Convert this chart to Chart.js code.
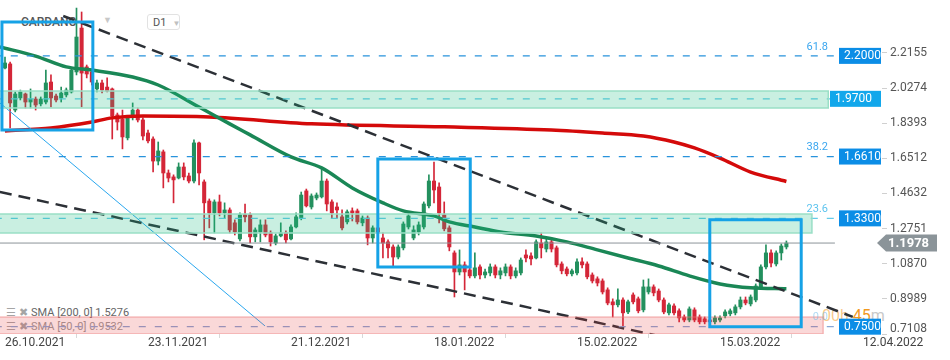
<!DOCTYPE html>
<html lang="en">
<head>
<meta charset="UTF-8">
<title>CARDANO D1</title>
<script src="https://cdn.jsdelivr.net/npm/chart.js@4"></script>
<style>
  html, body { margin: 0; padding: 0; background: #fff; }
  #wrap { position: relative; width: 950px; height: 360px; font-family: Roboto, "Noto Sans", sans-serif; }
  #chart { position: absolute; left: 0; top: 0; z-index: 2; }
  .txt { position: absolute; z-index: 1; white-space: nowrap; }
  .sym { left: 21px; top: 15px; font-size: 12px; font-weight: 500; color: #555; }
  .arr { left: 103px; top: 15px; font-size: 9px; color: #c8c8c8; }
  .tf { left: 147px; top: 14px; width: 33px; height: 16px; border: 1px solid #e2e2e2; border-radius: 3px;
        font-size: 11px; color: #555; line-height: 16px; padding-left: 5px; box-sizing: border-box; }
  .tf span { color: #c0c0c0; font-size: 8px; margin-left: 6px; }
  .leg { left: 6px; font-size: 11px; color: #666; }
  .leg i { font-style: normal; color: #a5a5a5; margin-right: 3px; }
  .leg2 { color: #9a9a9a; }
  .timer { left: 822px; top: 306px; font-size: 16px; }
</style>
</head>
<body>
<div id="wrap">
  <canvas id="chart" width="950" height="360"></canvas>
  <div class="txt sym">CARDANO</div>
  <div class="txt arr">&#9660;</div>
  <div class="txt tf">D1<span>&#9660;</span></div>
  <div class="txt leg" style="top:306px;"><i>&#9776;</i><i>&#10006;</i>SMA [200, 0] 1.5276</div>
  <div class="txt leg leg2" style="top:320px;"><i>&#9776;</i><i>&#10006;</i>SMA [50, 0] 0.9532</div>
  <div class="txt timer"><span style="color:rgba(243,156,40,0.55)">00h</span> <span style="color:#f29a1f">45</span><span style="color:#c9c9c9">m</span></div>
</div>
<script>
// CARDANO daily candles, 26.10.2021 -> 28.03.2022 (day 0 = 26.10.2021)

var xTickDays = [0, 28, 56, 84, 112, 140, 168];
var xTickLabels = ['26.10.2021', '23.11.2021', '21.12.2021', '18.01.2022', '15.02.2022', '15.03.2022', '12.04.2022'];
var yTickValues = [0.7108, 0.8989, 1.0870, 1.2751, 1.4632, 1.6512, 1.8393, 2.0274, 2.2155];

var opens = [
  2.135, 2.157, 1.910, 1.975, 1.996, 1.953, 1.969, 1.943, 1.953, 2.060,
  1.985, 1.975, 1.991, 2.007, 2.114, 2.349, 2.141, 2.114, 2.023, 2.055,
  2.033, 2.023, 1.884, 1.862, 1.761, 1.873, 1.910, 1.857, 1.787, 1.755,
  1.637, 1.686, 1.573, 1.552, 1.546, 1.605, 1.557, 1.530, 1.734, 1.525,
  1.423, 1.359, 1.418, 1.359, 1.375, 1.306, 1.220, 1.349, 1.349, 1.231,
  1.257, 1.295, 1.252, 1.198, 1.236, 1.252, 1.220, 1.284, 1.333, 1.477,
  1.391, 1.439, 1.445, 1.530, 1.418, 1.391, 1.338, 1.311, 1.370, 1.370,
  1.306, 1.332, 1.225, 1.279, 1.225, 1.204, 1.177, 1.123, 1.172, 1.284,
  1.225, 1.257, 1.284, 1.397, 1.530, 1.498, 1.349, 1.279, 1.145, 1.043,
  1.081, 1.054, 1.022, 1.070, 1.027, 1.038, 1.070, 1.027, 1.038, 1.070,
  1.022, 1.038, 1.134, 1.129, 1.118, 1.198, 1.166, 1.204, 1.172, 1.086,
  1.059, 1.033, 1.038, 1.097, 1.086, 1.027, 1.006, 0.995, 0.947, 0.883,
  0.867, 0.893, 0.829, 0.920, 0.899, 0.840, 0.936, 0.963, 0.941, 0.893,
  0.824, 0.861, 0.835, 0.802, 0.786, 0.840, 0.802, 0.792, 0.786, 0.776,
  0.786, 0.808, 0.819, 0.824, 0.856, 0.893, 0.872, 0.893, 0.963, 1.070,
  1.145, 1.086, 1.145, 1.177
];
var highs = [
  2.194, 2.167, 2.007, 2.017, 2.001, 2.023, 1.980, 1.980, 2.124, 2.098,
  1.996, 2.033, 2.028, 2.135, 2.456, 2.435, 2.151, 2.124, 2.071, 2.071,
  2.082, 2.028, 1.894, 1.910, 1.878, 1.948, 1.921, 1.868, 1.803, 1.766,
  1.739, 1.696, 1.589, 1.563, 1.627, 1.627, 1.573, 1.750, 1.739, 1.536,
  1.434, 1.429, 1.455, 1.413, 1.386, 1.322, 1.359, 1.407, 1.359, 1.279,
  1.322, 1.322, 1.263, 1.247, 1.306, 1.263, 1.295, 1.359, 1.471, 1.487,
  1.461, 1.466, 1.595, 1.541, 1.429, 1.413, 1.375, 1.375, 1.386, 1.380,
  1.343, 1.343, 1.290, 1.290, 1.252, 1.215, 1.188, 1.188, 1.311, 1.359,
  1.290, 1.311, 1.418, 1.563, 1.632, 1.520, 1.418, 1.290, 1.156, 1.161,
  1.097, 1.065, 1.145, 1.081, 1.059, 1.086, 1.081, 1.065, 1.086, 1.081,
  1.065, 1.118, 1.161, 1.145, 1.215, 1.252, 1.220, 1.225, 1.182, 1.097,
  1.070, 1.059, 1.113, 1.118, 1.097, 1.038, 1.017, 1.006, 0.958, 0.899,
  0.952, 0.904, 0.893, 0.931, 0.909, 1.000, 1.006, 0.974, 0.952, 0.904,
  0.877, 0.872, 0.845, 0.813, 0.856, 0.851, 0.813, 0.802, 0.797, 0.808,
  0.808, 0.840, 0.845, 0.867, 0.909, 0.909, 0.920, 0.979, 1.081, 1.188,
  1.161, 1.156, 1.193, 1.209
];
var lows = [
  2.130, 1.814, 1.900, 1.964, 1.921, 1.921, 1.910, 1.932, 1.943, 1.927,
  1.953, 1.953, 1.980, 2.001, 2.098, 1.927, 2.082, 2.044, 2.007, 2.001,
  2.007, 1.755, 1.803, 1.702, 1.750, 1.857, 1.846, 1.750, 1.734, 1.579,
  1.616, 1.493, 1.525, 1.413, 1.541, 1.536, 1.520, 1.520, 1.509, 1.215,
  1.279, 1.252, 1.343, 1.332, 1.252, 1.241, 1.209, 1.311, 1.198, 1.204,
  1.204, 1.231, 1.182, 1.188, 1.231, 1.198, 1.215, 1.279, 1.322, 1.391,
  1.380, 1.429, 1.439, 1.370, 1.332, 1.332, 1.268, 1.300, 1.316, 1.300,
  1.290, 1.188, 1.198, 1.236, 1.118, 1.118, 1.075, 1.113, 1.161, 1.273,
  1.215, 1.241, 1.273, 1.386, 1.413, 1.306, 1.263, 1.156, 0.909, 1.027,
  0.947, 1.011, 1.011, 1.006, 1.011, 1.022, 1.011, 1.006, 1.022, 1.006,
  1.011, 1.027, 1.097, 1.081, 1.113, 1.118, 1.150, 1.150, 1.070, 1.033,
  1.022, 1.022, 1.027, 1.065, 1.006, 0.984, 0.968, 0.925, 0.867, 0.802,
  0.856, 0.743, 0.819, 0.872, 0.824, 0.829, 0.925, 0.915, 0.883, 0.819,
  0.813, 0.813, 0.776, 0.776, 0.776, 0.776, 0.765, 0.765, 0.765, 0.765,
  0.776, 0.797, 0.808, 0.813, 0.845, 0.867, 0.861, 0.883, 0.952, 1.059,
  1.070, 1.075, 1.107, 1.166
];
var closes = [
  2.162, 1.948, 1.996, 2.007, 1.953, 1.969, 1.937, 1.969, 2.055, 1.975,
  1.964, 2.001, 2.017, 2.124, 2.301, 2.108, 2.103, 2.060, 2.055, 2.017,
  2.012, 1.878, 1.846, 1.766, 1.868, 1.910, 1.857, 1.771, 1.745, 1.637,
  1.691, 1.573, 1.546, 1.536, 1.605, 1.552, 1.530, 1.734, 1.573, 1.413,
  1.359, 1.418, 1.359, 1.375, 1.268, 1.257, 1.349, 1.338, 1.231, 1.268,
  1.295, 1.241, 1.204, 1.236, 1.252, 1.215, 1.284, 1.338, 1.455, 1.397,
  1.450, 1.455, 1.530, 1.407, 1.359, 1.375, 1.279, 1.365, 1.359, 1.311,
  1.332, 1.225, 1.279, 1.252, 1.198, 1.172, 1.123, 1.177, 1.300, 1.343,
  1.268, 1.295, 1.407, 1.530, 1.482, 1.359, 1.274, 1.177, 1.043, 1.081,
  1.043, 1.022, 1.065, 1.027, 1.043, 1.070, 1.027, 1.049, 1.070, 1.022,
  1.049, 1.107, 1.118, 1.113, 1.204, 1.172, 1.204, 1.166, 1.081, 1.049,
  1.033, 1.049, 1.097, 1.081, 1.017, 0.995, 0.984, 0.936, 0.877, 0.867,
  0.893, 0.824, 0.883, 0.883, 0.835, 0.963, 0.963, 0.931, 0.893, 0.829,
  0.867, 0.824, 0.797, 0.786, 0.845, 0.786, 0.776, 0.776, 0.776, 0.797,
  0.797, 0.829, 0.835, 0.856, 0.893, 0.877, 0.909, 0.968, 1.070, 1.145,
  1.091, 1.145, 1.182, 1.1978
];

// moving averages, read at a few days along the curves
var sma50Days = [-1, 6, 12, 17, 25, 30, 38, 44, 48, 56, 62, 68, 74, 78, 84, 87, 92, 97, 104, 110, 116, 122, 128, 134, 140, 146, 153];
var sma50Values = [2.248, 2.199, 2.141, 2.124, 2.087, 2.044, 1.926, 1.836, 1.777, 1.659, 1.600, 1.493, 1.413, 1.370, 1.343, 1.311, 1.284, 1.257, 1.236, 1.204, 1.161, 1.118, 1.075, 1.022, 0.979, 0.958, 0.953];
var sma200Days = [0, 9, 17, 21, 27, 40, 60, 86, 107, 117, 125, 131, 135, 140, 146, 153];
var sma200Values = [1.798, 1.814, 1.846, 1.868, 1.878, 1.873, 1.836, 1.820, 1.803, 1.787, 1.771, 1.739, 1.707, 1.653, 1.578, 1.5276];

// drawn trend lines (two ends each)
var trendUpperDays = [11.4, 166.0];
var trendUpperValues = [2.4135, 0.8023];
var trendLowerDays = [-1.0, 128.3];
var trendLowerValues = [1.4714, 0.6985];
var thinLineDays = [-1.0, 50.9];
var thinLineValues = [1.9479, 0.7541];

// highlight boxes
var boxStartDays = [-0.6, 73.0, 138.0];
var boxEndDays = [17.2, 91.1, 155.9];
var boxLows = [1.803, 1.070, 0.750];
var boxHighs = [2.381, 1.648, 1.322];

// zones
var zoneLows = [1.921, 1.252, 0.7108];
var zoneHighs = [2.012, 1.354, 0.802];
var zoneEndDays = [161.2, 158.0, 160.2];

// fibo levels
var fibLevels = [2.2, 1.97, 1.661, 1.33, 0.75];
var fibNames = ['61.8', '', '38.2', '23.6', '0.0'];
var fibEndDay = 162.5;
var lastPrice = 1.1978;

var UP = '#23905e';
var DOWN = '#d42638';

function pts(xs, ys) {
    return xs.map(function (x, i) { return { x: x, y: ys[i] }; });
}

function rect(x0, x1, lo, hi) {
    return [{ x: x0, y: lo }, { x: x0, y: hi }, { x: x1, y: hi }, { x: x1, y: lo }, { x: x0, y: lo }, { x: x0, y: hi }];
}

var candleColors = closes.map((c, i) => c >= opens[i] ? UP : DOWN);
var datasets = [];

// boxes on top
boxStartDays.forEach(function (s, i) {
    datasets.push({
        type: 'line', order: 0,
        data: rect(s, boxEndDays[i], boxLows[i], boxHighs[i]),
        borderColor: '#16a2e6', borderWidth: 3, borderJoinStyle: 'miter',
        pointRadius: 0, fill: false, tension: 0
    });
});

// zones
var zoneFill = ['rgba(30,190,130,0.24)', 'rgba(30,190,130,0.24)', 'rgba(230,60,60,0.2)'];
var zoneLine = ['#9adfc6', '#9adfc6', 'rgba(235,120,120,0.45)'];
zoneLows.forEach(function (lo, i) {
    datasets.push({
        type: 'line', order: 1,
        data: rect(-3, zoneEndDays[i], lo, zoneHighs[i]),
        borderColor: zoneLine[i], borderWidth: 1.5, backgroundColor: zoneFill[i],
        pointRadius: 0, fill: 'shape', tension: 0
    });
});

// fibo dashed lines
var fibColors = ['#2893dc', '#63cbe9', '#2893dc', '#63cbe9', '#86a6d6'];
fibLevels.forEach(function (lv, i) {
    datasets.push({
        type: 'line', order: 2,
        data: [{ x: -2, y: lv }, { x: fibEndDay, y: lv }],
        borderColor: fibColors[i], borderWidth: 1.2, borderDash: [7, 9],
        pointRadius: 0, fill: false
    });
});

// last price line
datasets.push({
    type: 'line', order: 2,
    data: [{ x: -2, y: lastPrice }, { x: fibEndDay, y: lastPrice }],
    borderColor: '#8c9499', borderWidth: 1, pointRadius: 0, fill: false
});

// trend lines
datasets.push({
    type: 'line', order: 3, data: pts(trendUpperDays, trendUpperValues),
    borderColor: '#2c3036', borderWidth: 2.5, borderDash: [12, 7], pointRadius: 0, fill: false
});
datasets.push({
    type: 'line', order: 3, data: pts(trendLowerDays, trendLowerValues),
    borderColor: '#2c3036', borderWidth: 2.5, borderDash: [12, 7], pointRadius: 0, fill: false
});
datasets.push({
    type: 'line', order: 3, data: pts(thinLineDays, thinLineValues),
    borderColor: '#2aa7ee', borderWidth: 1, pointRadius: 0, fill: false
});

// SMAs
datasets.push({
    type: 'line', order: 4, data: pts(sma50Days, sma50Values),
    borderColor: '#1a8756', borderWidth: 3.5, pointRadius: 0, fill: false,
    cubicInterpolationMode: 'monotone'
});
datasets.push({
    type: 'line', order: 4, data: pts(sma200Days, sma200Values),
    borderColor: '#d40a0a', borderWidth: 3.5, pointRadius: 0, fill: false,
    cubicInterpolationMode: 'monotone'
});

// candles
datasets.push({
    type: 'bar', order: 5, grouped: false, barThickness: 3.4,
    data: closes.map((c, i) => ({ x: i, y: [opens[i], c] })),
    backgroundColor: candleColors, borderWidth: 0
});
datasets.push({
    type: 'bar', order: 6, grouped: false, barThickness: 1,
    data: closes.map((c, i) => ({ x: i, y: [lows[i], highs[i]] })),
    backgroundColor: candleColors, borderWidth: 0
});

var tagsPlugin = {
    id: 'tags',
    afterDatasetsDraw: function (chart) {
        var ctx = chart.ctx;
        var y = chart.scales.y;
        var right = chart.chartArea.right - 1;
        ctx.save();
        ctx.textBaseline = 'middle';
        fibLevels.forEach(function (lv, i) {
            var py = y.getPixelForValue(lv);
            if (fibNames[i]) {
                ctx.font = '11px Roboto';
                ctx.textAlign = 'right';
                ctx.fillStyle = i === 4 ? 'rgba(80,175,230,0.45)' : (i === 3 ? '#5cc3ee' : '#3aa6ef');
                ctx.fillText(fibNames[i], 828, py - 9);
            }
            var left = i === 1 ? right - 51 : right - 42;
            ctx.fillStyle = i === 1 ? '#12a7eb' : '#0b8de6';
            ctx.fillRect(left, py - 8, right - left, 16);
            ctx.font = '12px Roboto';
            ctx.textAlign = 'left';
            ctx.fillStyle = '#fff';
            ctx.fillText(lv.toFixed(4), left + 5, py + 0.5);
        });
        var pp = y.getPixelForValue(lastPrice);
        ctx.fillStyle = '#8b9499';
        ctx.beginPath();
        ctx.moveTo(877, pp);
        ctx.lineTo(886, pp - 8.5);
        ctx.lineTo(937, pp - 8.5);
        ctx.lineTo(937, pp + 8.5);
        ctx.lineTo(886, pp + 8.5);
        ctx.closePath();
        ctx.fill();
        ctx.font = 'bold 13px Roboto';
        ctx.fillStyle = '#fff';
        ctx.textAlign = 'left';
        ctx.fillText(lastPrice.toFixed(4), 888, pp + 0.5);
        ctx.restore();
    }
};

Chart.defaults.font.family = 'Roboto, sans-serif';

var ctxChart = document.getElementById('chart').getContext('2d');
var myChart = new Chart(ctxChart, {
    type: 'bar',
    data: { datasets: datasets },
    plugins: [tagsPlugin],
    options: {
        responsive: false,
        animation: false,
        events: [],
        layout: { padding: 0 },
        plugins: {
            legend: { display: false },
            tooltip: { enabled: false }
        },
        scales: {
            x: {
                type: 'linear',
                min: -0.979,
                max: 171.72,
                offset: false,
                afterBuildTicks: function (s) {
                    s.ticks = xTickDays.map(v => ({ value: v }));
                },
                afterFit: function (s) {
                    s.height = 26;
                    s.paddingLeft = 0;
                    s.paddingRight = 0;
                },
                grid: { drawOnChartArea: false, drawTicks: true, tickLength: 4, tickColor: '#d8d8d8' },
                border: { display: false },
                ticks: {
                    autoSkip: false,
                    maxRotation: 0,
                    align: 'start',
                    padding: -2,
                    color: '#444',
                    font: { size: 12 },
                    callback: function (value, index) { return xTickLabels[index]; }
                }
            },
            y: {
                type: 'linear',
                position: 'right',
                min: 0.7108,
                max: 2.4992,
                afterBuildTicks: function (s) {
                    s.ticks = yTickValues.map(v => ({ value: v }));
                },
                afterFit: function (s) {
                    s.width = 68;
                    s.paddingTop = 0;
                    s.paddingBottom = 0;
                },
                grid: { drawOnChartArea: false, drawTicks: true, tickLength: 5, tickColor: '#d0d0d0' },
                border: { display: false },
                ticks: {
                    autoSkip: false,
                    padding: 3,
                    color: '#555',
                    font: function (c) {
                        return c.index === 0 ? { size: 12, lineHeight: 0.8 } : { size: 12 };
                    },
                    callback: function (value, index) {
                        return index === 0 ? [value.toFixed(4), ''] : value.toFixed(4);
                    }
                }
            }
        }
    }
});
</script>
</body>
</html>
